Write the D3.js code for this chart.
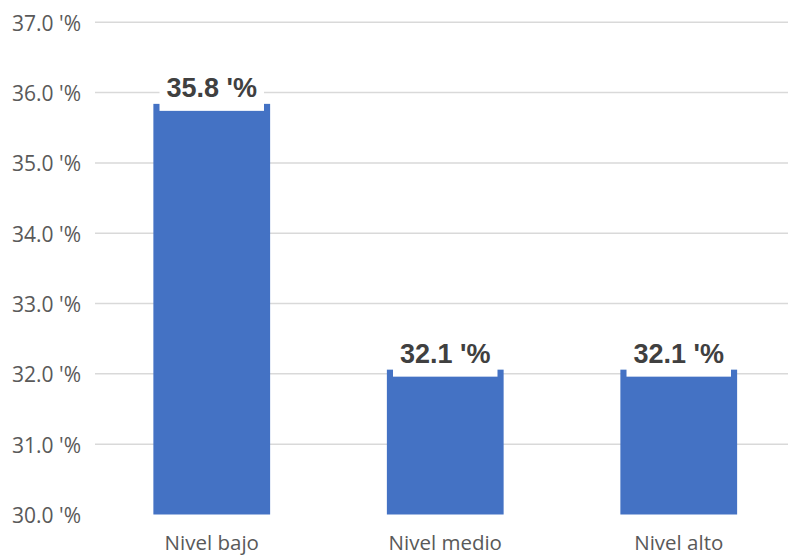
<!DOCTYPE html>
<html>
<head>
<meta charset="utf-8">
<script src="https://cdn.jsdelivr.net/npm/d3@7"></script>
<style>
  html, body { margin: 0; padding: 0; background: #fff; }
  svg { display: block; }
</style>
</head>
<body>
<svg id="chart" width="788" height="555"></svg>
<script>
const categories = ["Nivel bajo", "Nivel medio", "Nivel alto"];
const values = [35.84, 32.06, 32.06];
const tickValues = [30, 31, 32, 33, 34, 35, 36, 37];

const W = 788, H = 555;
const svg = d3.select("#chart");

const x = d3.scaleBand().domain(categories).range([95, 795.5])
  .paddingInner(0.5).paddingOuter(0.25);
const y = d3.scaleLinear().domain([30, 37]).range([514.5, 22.3]);

const fmt = v => v.toFixed(1) + " '%";

// gridlines
svg.append("g").selectAll("line")
  .data(tickValues.filter(t => t !== 30))
  .join("line")
  .attr("x1", 95).attr("x2", W)
  .attr("y1", d => y(d)).attr("y2", d => y(d))
  .attr("stroke", "#d9d9d9").attr("stroke-width", 1.5);

// y tick labels
svg.append("g").selectAll("text")
  .data(tickValues)
  .join("text")
  .attr("x", 81).attr("y", d => y(d))
  .attr("dy", "0.4em")
  .attr("text-anchor", "end")
  .attr("font-family", "'Open Sans', 'Noto Sans', sans-serif")
  .attr("font-size", 21)
  .attr("fill", "#595959")
  .text(d => fmt(d));

// bars
svg.append("g").selectAll("rect")
  .data(values)
  .join("rect")
  .attr("x", (d, i) => x(categories[i]))
  .attr("width", x.bandwidth())
  .attr("y", d => y(d))
  .attr("height", d => y(30) - y(d))
  .attr("fill", "#4472C4");

// data labels with white background
const lg = svg.append("g");
values.forEach((v, i) => {
  const cx = x(categories[i]) + x.bandwidth() / 2;
  const top = y(v);
  const g = lg.append("g");
  const rect = g.append("rect").attr("fill", "#fff");
  const t = g.append("text")
    .attr("x", cx).attr("y", top - 7)
    .attr("text-anchor", "middle")
    .attr("font-family", "'Liberation Sans', Arial, sans-serif")
    .attr("font-weight", "bold")
    .attr("font-size", 27)
    .attr("fill", "#404040")
    .text(fmt(v));
  const bb = t.node().getBBox();
  rect.attr("x", cx - bb.width / 2 - 7)
    .attr("width", bb.width + 14)
    .attr("y", top - 35)
    .attr("height", 42);
});

// category labels
svg.append("g").selectAll("text")
  .data(categories)
  .join("text")
  .attr("x", d => x(d) + x.bandwidth() / 2)
  .attr("y", 549.5)
  .attr("text-anchor", "middle")
  .attr("font-family", "'Open Sans', 'Noto Sans', sans-serif")
  .attr("font-size", 20.5)
  .attr("fill", "#595959")
  .text(d => d);
</script>
</body>
</html>
